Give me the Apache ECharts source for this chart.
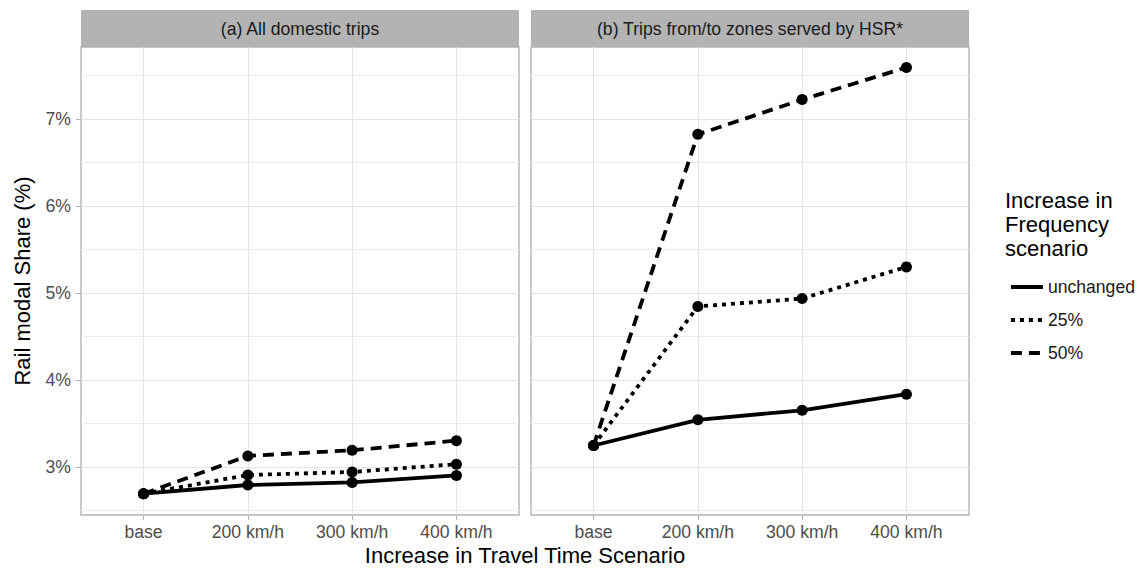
<!DOCTYPE html>
<html><head><meta charset="utf-8">
<script src="https://cdn.jsdelivr.net/npm/echarts@6/dist/echarts.min.js"></script>
<style>html,body{margin:0;padding:0;background:#fff}#c{width:1140px;height:568px}</style>
</head><body><div id="c"></div><script>
const categories = ['base', '200 km/h', '300 km/h', '400 km/h'];
const panelTitles = ['(a) All domestic trips', '(b) Trips from/to zones served by HSR*'];
const scenarioNames = ['unchanged', '25%', '50%'];
const yTickValues = [3, 4, 5, 6, 7];
const yMinorValues = [2.5, 3.5, 4.5, 5.5, 6.5, 7.5];
const xTickValues = [0, 1, 2, 3];
// (a) All domestic trips
const allUnchanged = [2.69, 2.79, 2.82, 2.90];
const all25 = [2.69, 2.905, 2.94, 3.03];
const all50 = [2.69, 3.125, 3.19, 3.30];
// (b) Trips from/to zones served by HSR
const hsrUnchanged = [3.245, 3.54, 3.65, 3.835];
const hsr25 = [3.245, 4.845, 4.935, 5.30];
const hsr50 = [3.245, 6.825, 7.225, 7.595];

const FONT = 'Liberation Sans, Arial, Helvetica, sans-serif';
const Y_MIN = 2.445, Y_MAX = 7.83, X_MIN = -0.6, X_MAX = 3.6;
const grids = [
  { left: 81, top: 47, width: 438, height: 468 },
  { left: 531, top: 47, width: 438, height: 468 }
];
const dashTypes = ['solid', [4, 5], [11, 7]];
const panelData = [[allUnchanged, all25, all50], [hsrUnchanged, hsr25, hsr50]];

const xAxes = [], yAxes = [], series = [];
grids.forEach((g, gi) => {
  xAxes.push({
    type: 'value', gridIndex: gi, min: X_MIN, max: X_MAX, position: 'bottom',
    axisLine: { show: false, onZero: false },
    axisTick: { show: true, length: 5, lineStyle: { color: '#b3b3b3', width: 1 }, customValues: xTickValues },
    axisLabel: { customValues: xTickValues, formatter: v => categories[Math.round(v)] || '', color: '#4d4d4d', fontSize: 17.6, fontFamily: FONT, margin: 8 },
    splitLine: { show: true, lineStyle: { color: '#e4e4e4', width: 1 } }
  });
  yAxes.push({
    type: 'value', gridIndex: gi, min: Y_MIN, max: Y_MAX, position: 'left',
    axisLine: { show: false, onZero: false },
    axisTick: { show: gi === 0, length: 5, lineStyle: { color: '#b3b3b3', width: 1 }, customValues: yTickValues },
    axisLabel: { show: gi === 0, customValues: yTickValues, formatter: v => v + '%', color: '#4d4d4d', fontSize: 17.6, fontFamily: FONT, margin: 10 },
    splitLine: { show: true, lineStyle: { color: '#e4e4e4', width: 1 } },
    name: gi === 0 ? 'Rail modal Share (%)' : '',
    nameLocation: 'middle', nameRotate: 90, nameGap: 48,
    nameTextStyle: { fontSize: 22, color: '#000', fontFamily: FONT }
  });
});
// secondary y axes for minor grid lines
grids.forEach((g, gi) => {
  yAxes.push({
    type: 'value', gridIndex: gi, min: Y_MIN, max: Y_MAX, position: 'left',
    axisLine: { show: false, onZero: false },
    axisTick: { show: false, customValues: yMinorValues },
    axisLabel: { show: false, customValues: yMinorValues },
    splitLine: { show: true, lineStyle: { color: '#ececec', width: 1 } }
  });
});

panelData.forEach((sets, gi) => {
  sets.forEach((vals, si) => {
    series.push({
      name: scenarioNames[si], type: 'line', xAxisIndex: gi, yAxisIndex: gi,
      data: vals.map((v, i) => [i, v]),
      symbol: 'circle', symbolSize: 11,
      itemStyle: { color: '#000' },
      lineStyle: { color: '#000', width: 3.8, type: dashTypes[si], cap: 'butt' },
      z: 3 + si, animation: false
    });
  });
});

const graphic = [];
grids.forEach((g, gi) => {
  graphic.push({ type: 'rect', shape: { x: g.left, y: 10, width: g.width, height: 37 }, style: { fill: '#b3b3b3' }, z: 10 });
  graphic.push({ type: 'text', x: g.left + g.width / 2, y: 29, style: { text: panelTitles[gi], fontSize: 17.6, fontFamily: FONT, fill: '#1a1a1a', align: 'center', verticalAlign: 'middle' }, z: 11 });
});
graphic.push({ type: 'text', x: 525, y: 555, style: { text: 'Increase in Travel Time Scenario', fontSize: 22, fontFamily: FONT, fill: '#000', align: 'center', verticalAlign: 'middle' } });
graphic.push({ type: 'text', x: 1005, y: 188, style: { text: 'Increase in\nFrequency\nscenario', fontSize: 22, lineHeight: 24, fontFamily: FONT, fill: '#000', align: 'left', verticalAlign: 'top' } });

const chart = echarts.init(document.getElementById('c'), null, { renderer: 'svg' });
chart.setOption({
  animation: false,
  backgroundColor: '#fff',
  grid: grids.map(g => Object.assign({ show: true, borderColor: '#b3b3b3', borderWidth: 1.4, backgroundColor: 'transparent' }, g)),
  xAxis: xAxes, yAxis: yAxes, series: series,
  legend: {
    data: scenarioNames, orient: 'vertical', left: 1004, top: 273,
    itemWidth: 32, itemHeight: 20, itemGap: 15,
    itemStyle: { opacity: 0 },
    lineStyle: { width: 3.8 },
    textStyle: { fontSize: 17.6, fontFamily: FONT, color: '#1a1a1a' },
    selectedMode: false
  },
  graphic: graphic
});
</script></body></html>
